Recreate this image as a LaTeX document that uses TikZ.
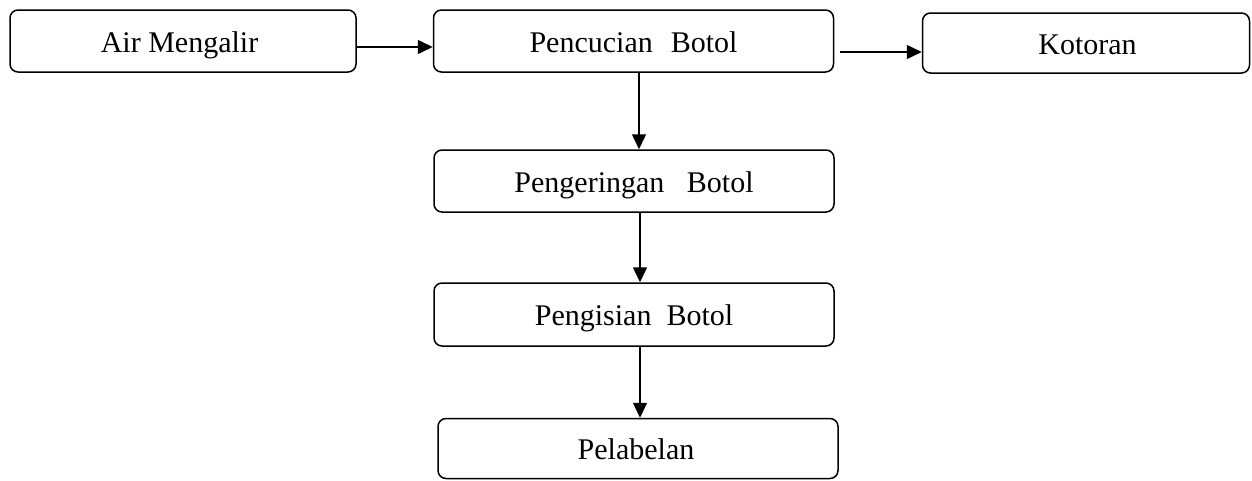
\documentclass[tikz,border=0pt]{standalone}
\usepackage{fontspec}
\setmainfont{Liberation Serif}
\usetikzlibrary{arrows.meta}
\begin{document}
\begin{tikzpicture}[x=1pt,y=-1pt,
  box/.style={draw, line width=1.5pt, rounded corners=8pt, inner sep=0pt,
    font=\fontsize{30}{36}\selectfont, text height=24pt, text depth=2pt},
  arr/.style={line width=1.5pt, -{Triangle[length=15pt,width=14pt]}}]
\useasboundingbox (0,0) rectangle (1252,480);
\node[box, minimum width=346pt, minimum height=62pt] (a) at (183,41) {\hspace{-7pt}Air Mengalir};
\node[box, minimum width=400pt, minimum height=62pt] (b) at (633.5,41) {Pencucian\hspace{0.6em}Botol};
\node[box, minimum width=327pt, minimum height=60pt] (k) at (1086,43) {\hspace{3pt}Kotoran};
\node[box, minimum width=400pt, minimum height=62pt] (c) at (634,181) {Pengeringan\hspace{0.75em}Botol};
\node[box, minimum width=400pt, minimum height=63pt] (d) at (634,314.5) {Pengisian\hspace{0.5em}Botol};
\node[box, minimum width=400pt, minimum height=60pt] (e) at (638,448.5) {\hspace{-4pt}Pelabelan};
\draw[arr] ([yshift=-6pt]a.east) -- ([yshift=-6pt]a.east -| b.west);
\draw[arr] ([xshift=5.5pt,yshift=-11pt]b.east) -- ([yshift=-11pt]b.east -| k.west);
\draw[arr] ([xshift=5.5pt]b.south) -- ([xshift=5.5pt]b.south |- c.north);
\draw[arr] ([xshift=6pt]c.south) -- ([xshift=6pt]c.south |- d.north);
\draw[arr] ([xshift=6pt]d.south) -- ([xshift=6pt]d.south |- e.north);
\end{tikzpicture}
\end{document}
